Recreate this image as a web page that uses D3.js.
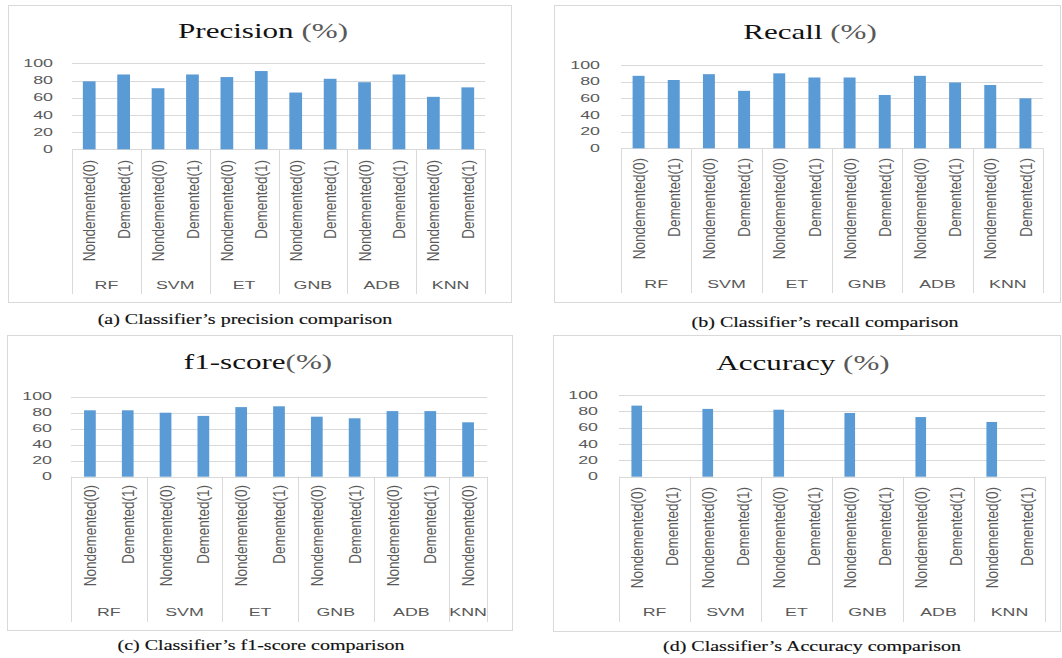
<!DOCTYPE html>
<html>
<head>
<meta charset="utf-8">
<script src="https://cdn.jsdelivr.net/npm/d3@7"></script>
<style>
  html, body { margin: 0; padding: 0; background: #fff; }
  svg { display: block; }
</style>
</head>
<body>
<svg id="fig" width="1062" height="658"></svg>
<script>
// Classifier results per class, in percent
const classifiers = ["RF", "SVM", "ET", "GNB", "ADB", "KNN"];
const classLabels = ["Nondemented(0)", "Demented(1)"];
const yTicks = [0, 20, 40, 60, 80, 100];

const precisionNondemented = [79, 71, 84, 66, 78, 61];
const precisionDemented    = [87, 87, 91, 82, 87, 72];

const recallNondemented = [87, 89, 90, 85, 87, 76];
const recallDemented    = [82, 69, 85, 64, 79, 60];

const f1Nondemented = [83, 80, 87, 75, 82, 68];
const f1Demented    = [83, 76, 88, 73, 82];          // no Demented(1) column for KNN

const accuracyNondemented = [87, 83, 82, 78, 73, 67];
const accuracyDemented    = [null, null, null, null, null, null]; // column shown, no bar

const BAR = "#5b9bd5";
const GRID = "#d9d9d9";
const LABEL = "#595959";

const svg = d3.select("#fig");

// text drawn with a horizontal stretch about its anchor point
function stretchedText(g, x, y, sx, opts) {
  const t = g.append("text")
    .attr("transform", `translate(${x},${y}) scale(${sx},1)` + (opts.rotate ? ` rotate(${opts.rotate})` : ""))
    .attr("text-anchor", opts.anchor || "middle")
    .attr("font-family", opts.family || "'Liberation Sans', Arial, sans-serif")
    .attr("font-size", opts.size)
    .attr("fill", opts.fill || LABEL);
  if (opts.dy) t.attr("dy", opts.dy);
  if (opts.stroke) t.attr("stroke", opts.stroke).attr("stroke-width", opts.strokeWidth);
  return t;
}

function drawPanel(p) {
  const g = svg.append("g");

  // chart frame
  g.append("rect")
    .attr("x", p.box[0] + 0.5).attr("y", p.box[1] + 0.5)
    .attr("width", p.box[2] - p.box[0]).attr("height", p.box[3] - p.box[1])
    .attr("fill", "#fff").attr("stroke", GRID).attr("stroke-width", 1);

  // one row per (classifier, class) column
  const rows = [];
  classifiers.forEach((c, i) => {
    rows.push({ group: c, cls: classLabels[0], value: p.non[i] });
    if (i < p.dem.length) rows.push({ group: c, cls: classLabels[1], value: p.dem[i] });
  });
  const idx = rows.map((_, i) => i);

  const slot = d3.scaleBand().domain(idx).range([p.left, p.right]);
  const pad = 1 - p.barFrac;
  const x = d3.scaleBand().domain(idx).range([p.left, p.right])
    .paddingInner(pad).paddingOuter(pad / 2);
  const y = d3.scaleLinear().domain([0, 100]).range([p.y0, p.y100]);

  // gridlines (the 0 line doubles as the category axis line)
  g.selectAll(".grid").data(yTicks).join("line")
    .attr("x1", p.left).attr("x2", p.right)
    .attr("y1", d => Math.round(y(d)) + 0.5).attr("y2", d => Math.round(y(d)) + 0.5)
    .attr("stroke", GRID).attr("stroke-width", 1);

  // value tick labels
  yTicks.forEach(t => {
    stretchedText(g, p.tickRight, y(t), 1.7, { anchor: "end", size: 10.5, dy: "0.36em" }).text(t);
  });

  // bars
  g.selectAll(".bar").data(rows.filter(r => r.value != null)).join("rect")
    .attr("x", (d) => x(rows.indexOf(d)))
    .attr("width", x.bandwidth())
    .attr("y", d => y(d.value))
    .attr("height", d => y(0) - y(d.value))
    .attr("fill", BAR);

  // group separators of the two-level category axis
  const bounds = [];
  classifiers.forEach(c => {
    const members = rows.map((r, i) => r.group === c ? i : -1).filter(i => i >= 0);
    bounds.push({ group: c, x0: slot(members[0]), x1: slot(members[members.length - 1]) + slot.bandwidth() });
  });
  const seps = [p.left].concat(bounds.map(b => b.x1));
  g.selectAll(".sep").data(seps).join("line")
    .attr("x1", d => Math.round(d) + 0.5).attr("x2", d => Math.round(d) + 0.5)
    .attr("y1", p.y0).attr("y2", p.axisBottom)
    .attr("stroke", GRID).attr("stroke-width", 1);

  // class labels, rotated
  rows.forEach((r, i) => {
    stretchedText(g, slot(i) + slot.bandwidth() / 2, p.labelTop, 1.25,
      { anchor: "end", size: 13.5, rotate: -90, dy: "0.36em" }).text(r.cls);
  });

  // classifier labels
  bounds.forEach(b => {
    stretchedText(g, (b.x0 + b.x1) / 2, p.groupY, 1.55, { size: 11.5 }).text(b.group);
  });

  // title
  const title = stretchedText(g, p.titleX, p.titleY, 1.48,
    { size: 21, family: "'Liberation Serif', 'Times New Roman', serif", fill: "#111" });
  title.append("tspan").text(p.title);
  title.append("tspan").attr("fill", LABEL).text(p.titleUnit);

  // caption under the frame
  stretchedText(g, p.capX, p.capY, 1.43,
    { size: 14, family: "'Liberation Serif', 'Times New Roman', serif", fill: "#111",
      stroke: "#111", strokeWidth: 0.15 }).text(p.caption);
}

drawPanel({
  non: precisionNondemented, dem: precisionDemented,
  title: "Precision ", titleUnit: "(%)",
  caption: "(a) Classifier\u2019s precision comparison",
  box: [8, 5, 511, 302], left: 72, right: 485, y100: 63.3, y0: 149.3, axisBottom: 294,
  tickRight: 53, labelTop: 160, groupY: 289, titleX: 263, titleY: 38, capX: 245, capY: 324,
  barFrac: 0.37
});

drawPanel({
  non: recallNondemented, dem: recallDemented,
  title: "Recall ", titleUnit: "(%)",
  caption: "(b) Classifier\u2019s recall comparison",
  box: [554, 5, 1060, 302], left: 621, right: 1043, y100: 65, y0: 148.3, axisBottom: 293,
  tickRight: 600, labelTop: 158, groupY: 288, titleX: 810, titleY: 39, capX: 825, capY: 327,
  barFrac: 0.34
});

drawPanel({
  non: f1Nondemented, dem: f1Demented,
  title: "f1-score", titleUnit: "(%)",
  caption: "(c) Classifier\u2019s f1-score comparison",
  box: [7, 335, 512, 630], left: 71, right: 487, y100: 396.7, y0: 476.7, axisBottom: 622,
  tickRight: 52, labelTop: 485, groupY: 616, titleX: 258, titleY: 369, capX: 261, capY: 650,
  barFrac: 0.31
});

drawPanel({
  non: accuracyNondemented, dem: accuracyDemented,
  title: "Accuracy ", titleUnit: "(%)",
  caption: "(d) Classifier\u2019s Accuracy comparison",
  box: [553, 335, 1060, 631], left: 619, right: 1045, y100: 395, y0: 476.7, axisBottom: 622,
  tickRight: 598, labelTop: 487, groupY: 616, titleX: 803, titleY: 370, capX: 812, capY: 651,
  barFrac: 0.30
});
</script>
</body>
</html>
